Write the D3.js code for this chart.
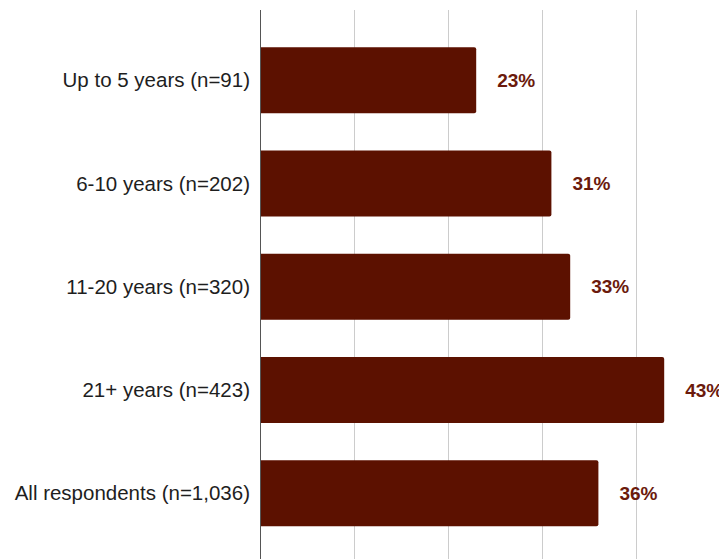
<!DOCTYPE html>
<html>
<head>
<meta charset="utf-8">
<script src="https://cdn.jsdelivr.net/npm/d3@7"></script>
<style>
  html, body { margin: 0; padding: 0; background: #fff; }
  svg { display: block; }
</style>
</head>
<body>
<svg id="chart" width="719" height="559"></svg>
<script>
const categories = ["Up to 5 years (n=91)", "6-10 years (n=202)", "11-20 years (n=320)", "21+ years (n=423)", "All respondents (n=1,036)"];
const values = [23, 31, 33, 43, 36];
const gridTicks = [10, 20, 30, 40];

const width = 719, height = 559;
const svg = d3.select("#chart");

const x = d3.scaleLinear().domain([0, 50]).range([260, 730]);
const y = d3.scaleBand().domain(categories).range([10, 10 + 5.36 * 103.25]).paddingInner(0.36).paddingOuter(0.36);

// gridlines
svg.append("g").selectAll("line").data(gridTicks).join("line")
  .attr("x1", d => Math.round(x(d)) + 0.5).attr("x2", d => Math.round(x(d)) + 0.5)
  .attr("y1", 10).attr("y2", height)
  .attr("stroke", "#cccccc").attr("stroke-width", 1);

// bars with rounded right corners
const r = 2;
svg.append("g").selectAll("path").data(values).join("path")
  .attr("d", (d, i) => {
    const x0 = x(0), x1 = x(d), y0 = y(categories[i]), y1 = y0 + y.bandwidth();
    return `M${x0},${y0}H${x1 - r}Q${x1},${y0} ${x1},${y0 + r}V${y1 - r}Q${x1},${y1} ${x1 - r},${y1}H${x0}Z`;
  })
  .attr("fill", "#5c1100");

// axis line
svg.append("line")
  .attr("x1", Math.round(x(0)) + 0.5).attr("x2", Math.round(x(0)) + 0.5)
  .attr("y1", 10).attr("y2", height)
  .attr("stroke", "#555555").attr("stroke-width", 1);

// category labels
svg.append("g").selectAll("text").data(categories).join("text")
  .attr("x", x(0) - 10)
  .attr("y", d => y(d) + y.bandwidth() / 2)
  .attr("dy", "0.35em")
  .attr("text-anchor", "end")
  .attr("font-family", "'Liberation Sans', Arial, sans-serif")
  .attr("font-size", 20.5)
  .attr("fill", "#1e1e1e")
  .text(d => d);

// value labels
svg.append("g").selectAll("text").data(values).join("text")
  .attr("x", d => x(d) + 21)
  .attr("y", (d, i) => y(categories[i]) + y.bandwidth() / 2)
  .attr("dy", "0.35em")
  .attr("font-family", "'Liberation Sans', Arial, sans-serif")
  .attr("font-size", 19)
  .attr("font-weight", "bold")
  .attr("fill", "#6b1a0c")
  .text(d => d + "%");
</script>
</body>
</html>
